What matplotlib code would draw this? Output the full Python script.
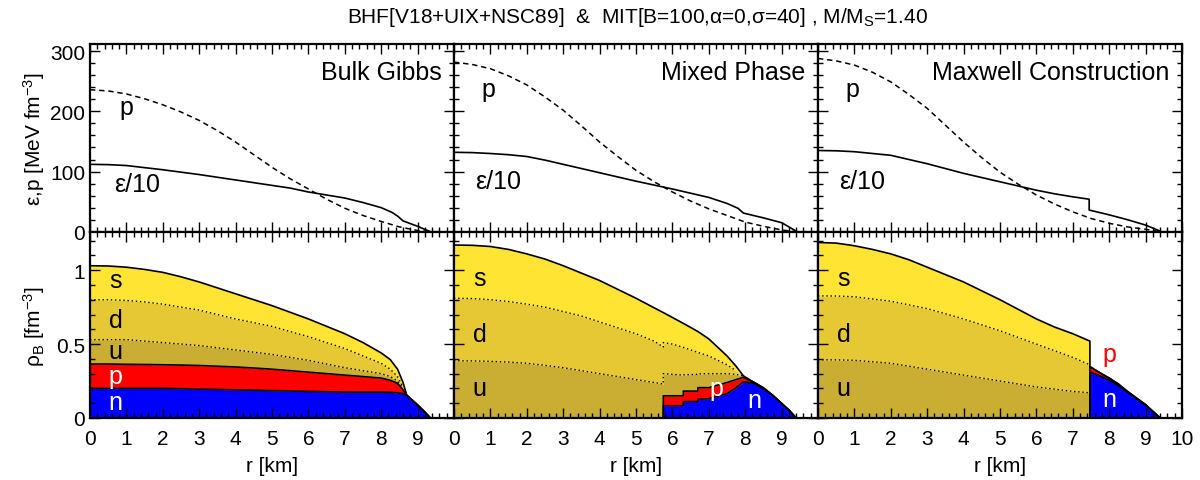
import numpy as np
import matplotlib.pyplot as plt
from matplotlib.ticker import MultipleLocator

plt.rcParams['font.family'] = ['Liberation Sans', 'DejaVu Sans']
plt.rcParams['mathtext.fontset'] = 'custom'
plt.rcParams['mathtext.rm'] = 'Liberation Sans'
plt.rcParams['mathtext.it'] = 'Liberation Sans'
plt.rcParams['mathtext.default'] = 'regular'

# ---- top row: energy density / 10 and pressure [MeV fm^-3] ----
R_EPS_GIBBS = [0, 0.5, 1, 1.5, 2, 2.5, 3, 3.5, 4, 4.5, 5, 5.5, 6, 6.5, 7, 7.5, 8, 8.3, 8.45, 8.6, 9.0, 9.35]
EPS_GIBBS = [112, 111.5, 110, 106.5, 103, 99, 95, 90.5, 86, 81.5, 77, 72.5, 66, 61, 56, 48.5, 40, 32, 26, 18, 9, 0]
R_P_GIBBS = [0, 0.5, 1, 1.5, 2, 2.5, 3, 3.5, 4, 4.5, 5, 5.5, 6, 6.5, 7, 7.5, 8, 8.5, 9.0, 9.35]
P_GIBBS = [236, 234, 229, 221, 211, 199, 185, 168, 149, 128, 107, 88, 71, 54, 39, 27, 17, 8, 2, 0]

R_EPS_MIXED = [0, 0.5, 1, 1.5, 2, 2.5, 3, 3.5, 4, 4.5, 5, 5.5, 6, 6.5, 7, 7.5, 7.8, 7.95, 8.5, 9.0, 9.4]
EPS_MIXED = [132, 131.5, 130, 128, 125, 119, 112, 105, 98, 91, 84, 77.5, 71, 64, 57, 47, 39, 31, 23, 15, 1]
R_P_MIXED = [0, 0.5, 1, 1.5, 2, 2.5, 3, 3.5, 4, 4.5, 5, 5.5, 6, 6.5, 7, 7.5, 8, 8.5, 9.0, 9.4]
P_MIXED = [282, 278, 271, 259, 244, 224, 202, 176, 149, 125, 102, 83, 66, 51, 38, 27, 16, 9, 3, 0]

R_EPS_MAXWELL = [0, 0.5, 1, 1.5, 2, 2.5, 3, 3.5, 4, 4.5, 5, 5.5, 6, 6.5, 7, 7.45, 7.45, 8, 8.5, 9, 9.4]
EPS_MAXWELL = [135, 134.5, 133, 130, 127, 120, 113, 105, 97, 90, 83, 76, 69, 63, 58, 54, 36, 28, 20, 11, 1]
R_P_MAXWELL = [0, 0.5, 1, 1.5, 2, 2.5, 3, 3.5, 4, 4.5, 5, 5.5, 6, 6.5, 7, 7.5, 8, 8.5, 9, 9.4]
P_MAXWELL = [288, 284, 277, 265, 249, 228, 205, 177, 149, 123, 99, 79, 61, 46, 33, 22, 14, 8, 4, 0]

# ---- bottom row: cumulative baryon density tops n, +p, +u, +d, +s [fm^-3] ----
R_GIBBS = [0, 0.5, 1, 1.5, 2, 2.5, 3, 3.5, 4, 4.5, 5, 5.5, 6, 6.5, 7, 7.5, 8, 8.25, 8.45, 8.6, 8.7, 9.0, 9.2, 9.35]
N_GIBBS = [0.20, 0.20, 0.20, 0.20, 0.20, 0.198, 0.195, 0.193, 0.19, 0.188, 0.185, 0.183, 0.18, 0.178,
           0.175, 0.175, 0.175, 0.173, 0.17, 0.165, 0.155, 0.088, 0.04, 0.0]
P_TOP_GIBBS = [0.365, 0.365, 0.363, 0.362, 0.36, 0.358, 0.355, 0.35, 0.345, 0.338, 0.33, 0.32, 0.31, 0.30,
               0.29, 0.28, 0.27, 0.255, 0.235, 0.19, 0.155, 0.088, 0.04, 0.0]
U_TOP_GIBBS = [0.53, 0.53, 0.53, 0.52, 0.51, 0.50, 0.49, 0.475, 0.46, 0.445, 0.43, 0.41, 0.39, 0.365,
               0.34, 0.32, 0.30, 0.28, 0.25, 0.20, 0.155, 0.088, 0.04, 0.0]
D_TOP_GIBBS = [0.80, 0.80, 0.795, 0.785, 0.77, 0.75, 0.73, 0.70, 0.67, 0.645, 0.62, 0.585, 0.55, 0.51,
               0.47, 0.42, 0.37, 0.33, 0.28, 0.21, 0.155, 0.088, 0.04, 0.0]
S_TOP_GIBBS = [1.03, 1.028, 1.02, 1.005, 0.985, 0.955, 0.92, 0.88, 0.84, 0.80, 0.76, 0.715, 0.67, 0.62,
               0.57, 0.51, 0.44, 0.395, 0.33, 0.24, 0.155, 0.088, 0.04, 0.0]

R_MIXED = [0, 0.5, 1, 1.5, 2, 2.5, 3, 3.5, 4, 4.5, 5, 5.5, 5.75, 5.75, 6.0, 6.3, 6.3, 6.7, 6.7, 7.0, 7.5,
           7.75, 7.95, 8.25, 8.5, 8.75, 9.0, 9.2, 9.4]
N_MIXED = [0, 0, 0, 0, 0, 0, 0, 0, 0, 0, 0, 0, 0, 0.083, 0.083, 0.083, 0.111, 0.111, 0.128, 0.13, 0.165,
           0.205, 0.245, 0.234, 0.198, 0.153, 0.099, 0.054, 0.0]
P_TOP_MIXED = [0, 0, 0, 0, 0, 0, 0, 0, 0, 0, 0, 0, 0, 0.15, 0.15, 0.15, 0.182, 0.182, 0.205, 0.205, 0.24,
               0.26, 0.275, 0.24, 0.204, 0.155, 0.099, 0.054, 0.0]
U_TOP_MIXED = [0.387, 0.386, 0.383, 0.378, 0.37, 0.356, 0.34, 0.32, 0.30, 0.28, 0.26, 0.24, 0.23, 0.30,
               0.295, 0.29, 0.292, 0.295, 0.298, 0.30, 0.30, 0.295, 0.285, 0.24, 0.204, 0.155, 0.099, 0.054, 0.0]
D_TOP_MIXED = [0.81, 0.808, 0.80, 0.788, 0.77, 0.75, 0.72, 0.69, 0.65, 0.61, 0.57, 0.52, 0.48, 0.51,
               0.50, 0.478, 0.478, 0.444, 0.444, 0.42, 0.36, 0.32, 0.285, 0.24, 0.204, 0.155, 0.099, 0.054, 0.0]
S_TOP_MIXED = [1.17, 1.168, 1.16, 1.14, 1.11, 1.075, 1.03, 0.98, 0.93, 0.87, 0.81, 0.745, 0.713, 0.713,
               0.68, 0.64, 0.64, 0.585, 0.585, 0.535, 0.42, 0.35, 0.285, 0.24, 0.204, 0.155, 0.099, 0.054, 0.0]

R_MAXWELL = [0, 0.5, 1, 1.5, 2, 2.5, 3, 3.5, 4, 4.5, 5, 5.5, 6, 6.5, 7, 7.47, 7.47, 7.75, 8.0, 8.25, 8.5,
             8.75, 9.0, 9.2, 9.4]
N_MAXWELL = [0] * 16 + [0.31, 0.285, 0.255, 0.22, 0.175, 0.13, 0.087, 0.044, 0.0]
P_TOP_MAXWELL = [0] * 16 + [0.347, 0.305, 0.27, 0.23, 0.18, 0.135, 0.09, 0.045, 0.0]
U_TOP_MAXWELL = [0.394, 0.393, 0.39, 0.38, 0.37, 0.35, 0.33, 0.31, 0.29, 0.27, 0.25, 0.23, 0.21, 0.195,
                 0.18, 0.17] + P_TOP_MAXWELL[16:]
D_TOP_MAXWELL = [0.826, 0.825, 0.82, 0.805, 0.79, 0.765, 0.74, 0.705, 0.67, 0.63, 0.59, 0.545, 0.50,
                 0.455, 0.41, 0.36] + P_TOP_MAXWELL[16:]
S_TOP_MAXWELL = [1.187, 1.183, 1.165, 1.14, 1.11, 1.07, 1.02, 0.97, 0.92, 0.86, 0.80, 0.735, 0.67,
                 0.615, 0.57, 0.52] + P_TOP_MAXWELL[16:]

PANELS = ["Bulk Gibbs", "Mixed Phase", "Maxwell Construction"]

C_S = "#ffe433"
C_D = "#e5c833"
C_U = "#c9ae33"
C_P = "#ff0000"
C_N = "#0000ff"

fig = plt.figure(figsize=(12, 4.81), dpi=100)

lefts = [90 / 1200, 454 / 1200, 818 / 1200]
width = 364 / 1200


def style_axis(ax):
    ax.set_xlim(0, 10)
    ax.xaxis.set_major_locator(MultipleLocator(1))
    ax.xaxis.set_minor_locator(MultipleLocator(0.2))
    ax.tick_params(which="both", direction="in", top=True, right=True, width=1.0, labelsize=15)
    ax.tick_params(which="major", length=7)
    ax.tick_params(which="minor", length=3.5)
    for sp in ax.spines.values():
        sp.set_linewidth(1.6)


top_data = [
    (R_EPS_GIBBS, EPS_GIBBS, R_P_GIBBS, P_GIBBS),
    (R_EPS_MIXED, EPS_MIXED, R_P_MIXED, P_MIXED),
    (R_EPS_MAXWELL, EPS_MAXWELL, R_P_MAXWELL, P_MAXWELL),
]
bot_data = [
    (R_GIBBS, N_GIBBS, P_TOP_GIBBS, U_TOP_GIBBS, D_TOP_GIBBS, S_TOP_GIBBS),
    (R_MIXED, N_MIXED, P_TOP_MIXED, U_TOP_MIXED, D_TOP_MIXED, S_TOP_MIXED),
    (R_MAXWELL, N_MAXWELL, P_TOP_MAXWELL, U_TOP_MAXWELL, D_TOP_MAXWELL, S_TOP_MAXWELL),
]

for i in range(3):
    # top panel
    ax = fig.add_axes([lefts[i], 0.5162, width, 0.3902])
    style_axis(ax)
    ax.set_ylim(0, 312)
    ax.yaxis.set_major_locator(MultipleLocator(100))
    ax.yaxis.set_minor_locator(MultipleLocator(20))
    re, e, rp, p = top_data[i]
    ax.plot(re, e, color="black", lw=1.2)
    ax.plot(rp, p, color="black", lw=1.1, ls=(0, (3.5, 2.5)))
    ax.tick_params(labelbottom=False)
    if i > 0:
        ax.tick_params(labelleft=False)
    ax.text(9.65, 266, PANELS[i], ha="right", va="center", fontsize=18)
    ax.text(1.0 if i == 0 else 0.95, 208 if i == 0 else 238, "p", ha="center", va="center", fontsize=18)
    ax.text(1.3 if i == 0 else 1.2, 80 if i == 0 else 85, "ε/10", ha="center", va="center", fontsize=18)

    # bottom panel
    ax = fig.add_axes([lefts[i], 0.1289, width, 0.3873])
    style_axis(ax)
    ax.set_ylim(0, 1.26)
    ax.yaxis.set_major_locator(MultipleLocator(0.5))
    ax.yaxis.set_minor_locator(MultipleLocator(0.1))
    r, n, pt, ut, dt, st = [np.array(a, dtype=float) for a in bot_data[i]]
    ax.fill_between(r, 0, n, color=C_N, lw=0)
    ax.fill_between(r, n, pt, color=C_P, lw=0)
    ax.fill_between(r, pt, ut, color=C_U, lw=0)
    ax.fill_between(r, ut, dt, color=C_D, lw=0)
    ax.fill_between(r, dt, st, color=C_S, lw=0)
    u_line = np.where(ut > pt + 1e-4, ut, np.nan)
    d_line = np.where(dt > ut + 1e-4, dt, np.nan)
    ax.plot(r, u_line, color="black", lw=1.0, ls=(0, (1, 2)))
    ax.plot(r, d_line, color="black", lw=1.0, ls=(0, (1, 2)))
    ax.plot(r, st, color="black", lw=1.2)
    ax.plot(r, pt, color="black", lw=1.2)
    ax.plot(r, n, color="black", lw=1.2)
    ax.set_xticks(range(11))
    if i < 2:
        ax.set_xticklabels([str(k) for k in range(10)] + [""])
    ax.tick_params(axis="x", pad=8)
    if i > 0:
        ax.tick_params(labelleft=False)
    else:
        ax.set_yticks([0, 0.5, 1])
        ax.set_yticklabels(["0", "0.5", "1"])
    ax.set_xlabel("r [km]", fontsize=15, labelpad=6)

    ax.text(0.7, 0.95 if i else 0.93, "s", ha="center", va="center", fontsize=18)
    ax.text(0.7, 0.57 if i else 0.66, "d", ha="center", va="center", fontsize=18)
    ax.text(0.7, 0.20 if i else 0.455, "u", ha="center", va="center", fontsize=18)
    if i == 0:
        ax.text(0.7, 0.285, "p", ha="center", va="center", fontsize=18, color="white")
        ax.text(0.7, 0.105, "n", ha="center", va="center", fontsize=18, color="white")
    elif i == 1:
        ax.text(7.2, 0.20, "p", ha="center", va="center", fontsize=18, color="white")
        ax.text(8.25, 0.12, "n", ha="center", va="center", fontsize=18, color="white")
    else:
        ax.text(8.0, 0.43, "p", ha="center", va="center", fontsize=18, color="red")
        ax.text(8.0, 0.13, "n", ha="center", va="center", fontsize=18, color="white")

fig.text(0.028, 0.71, "ε,p [MeV fm$^{-3}$]", rotation=90, ha="center", va="center", fontsize=15)
fig.text(0.028, 0.322, "ρ$_{B}$ [fm$^{-3}$]", rotation=90, ha="center", va="center", fontsize=15)
fig.text(0.531, 0.963, "BHF[V18+UIX+NSC89]  &  MIT[B=100,α=0,σ=40] , M/M$_{S}$=1.40",
         ha="center", va="center", fontsize=15)

fig.savefig("out.png", dpi=100)
